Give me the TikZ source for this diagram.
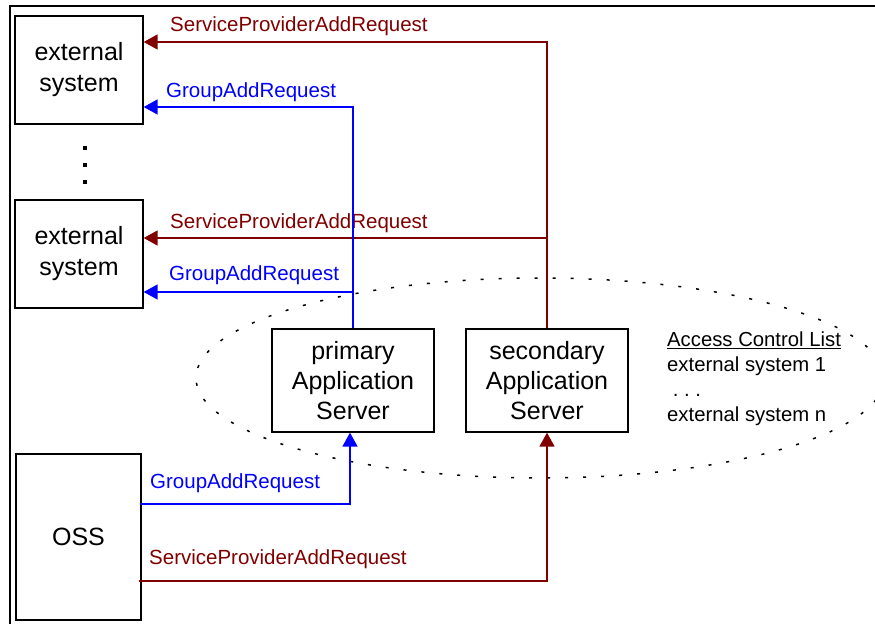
\documentclass[tikz,border=0pt]{standalone}
\usepackage{fontspec}
\setmainfont{Liberation Sans}
\usetikzlibrary{arrows.meta, positioning}
\definecolor{darkred}{RGB}{128,0,0}
\definecolor{pureblue}{RGB}{0,0,255}

\begin{document}
\begin{tikzpicture}
  [
    x=1pt, y=-1pt,
    Box/.style={rectangle, draw=black, line width=1.3pt, inner sep=0pt, align=center, font=\fontsize{25}{30}\selectfont},
    Label/.style={anchor=base west, inner sep=0pt, font=\fontsize{20.5}{24}\selectfont},
    RedLine/.style={draw=darkred, line width=1.6pt},
    BlueLine/.style={draw=pureblue, line width=1.6pt},
    ArrowTip/.style={-{Triangle[length=14pt, width=15pt]}}
  ]
  \useasboundingbox (0,0) rectangle (875,624);
  % Frame
  \draw[line width=1.3pt] (875,6) -- (10,6) -- (10,624);
  % Nodes
  \node[Box, minimum width=128pt, minimum height=108pt, font=\fontsize{25}{31}\selectfont] (ext1) at (79, 70) {external\\system};
  \node[Box, minimum width=128pt, minimum height=108pt, font=\fontsize{25}{31}\selectfont] (ext2) at (79, 254) {external\\system};
  \node[Box, minimum width=125pt, minimum height=166pt] (oss) at (78.5, 537) {OSS};
  \node[Box, minimum width=162pt, minimum height=103pt] (primary) at (353, 380.5) {primary\\Application\\Server};
  \node[Box, minimum width=162pt, minimum height=103pt] (secondary) at (547, 380.5) {secondary\\Application\\Server};
  \foreach \y in {148,165,182}
    \fill (83,\y-2) rectangle (87,\y+2);
  % Domain
  \draw[line width=1.5pt, dash pattern=on 3pt off 15pt] (540,378) ellipse [x radius=344pt, y radius=100pt];
  \node[Label, align=left, font=\fontsize{20.3}{24.7}\selectfont] (acl) at (667, 421)
    {\underline{Access Control List}\\external system 1\\\ .\ .\ .\\external system n};
  % Labels
  \node[Label, text=darkred] (spr1) at (170, 31) {ServiceProviderAddRequest};
  \node[Label, text=pureblue] (gar1) at (166, 97) {GroupAddRequest};
  \node[Label, text=darkred] (spr2) at (170, 228) {ServiceProviderAddRequest};
  \node[Label, text=pureblue] (gar2) at (169, 280) {GroupAddRequest};
  \node[Label, text=pureblue] (gar3) at (150, 488) {GroupAddRequest};
  \node[Label, text=darkred] (spr3) at (149, 564) {ServiceProviderAddRequest};
  % Lines
  \coordinate (red2) at ([yshift=16pt]ext2.east);
  \coordinate (blue2) at ([yshift=-38pt]ext2.east);
  \path [RedLine, ArrowTip] (secondary.north) |- ([yshift=28pt]ext1.east);
  \path [RedLine, ArrowTip] (secondary.north |- red2) -- (red2);
  \path [BlueLine, ArrowTip] (primary.north) |- ([yshift=-37pt]ext1.east);
  \path [BlueLine, ArrowTip] (primary.north |- blue2) -- (blue2);
  \path [BlueLine, ArrowTip] ([yshift=33pt, xshift=-2pt]oss.east) -| ([xshift=-3pt]primary.south);
  \path [RedLine, ArrowTip] ([yshift=-44pt, xshift=-3pt]oss.east) -| (secondary.south);
\end{tikzpicture}
\end{document}
